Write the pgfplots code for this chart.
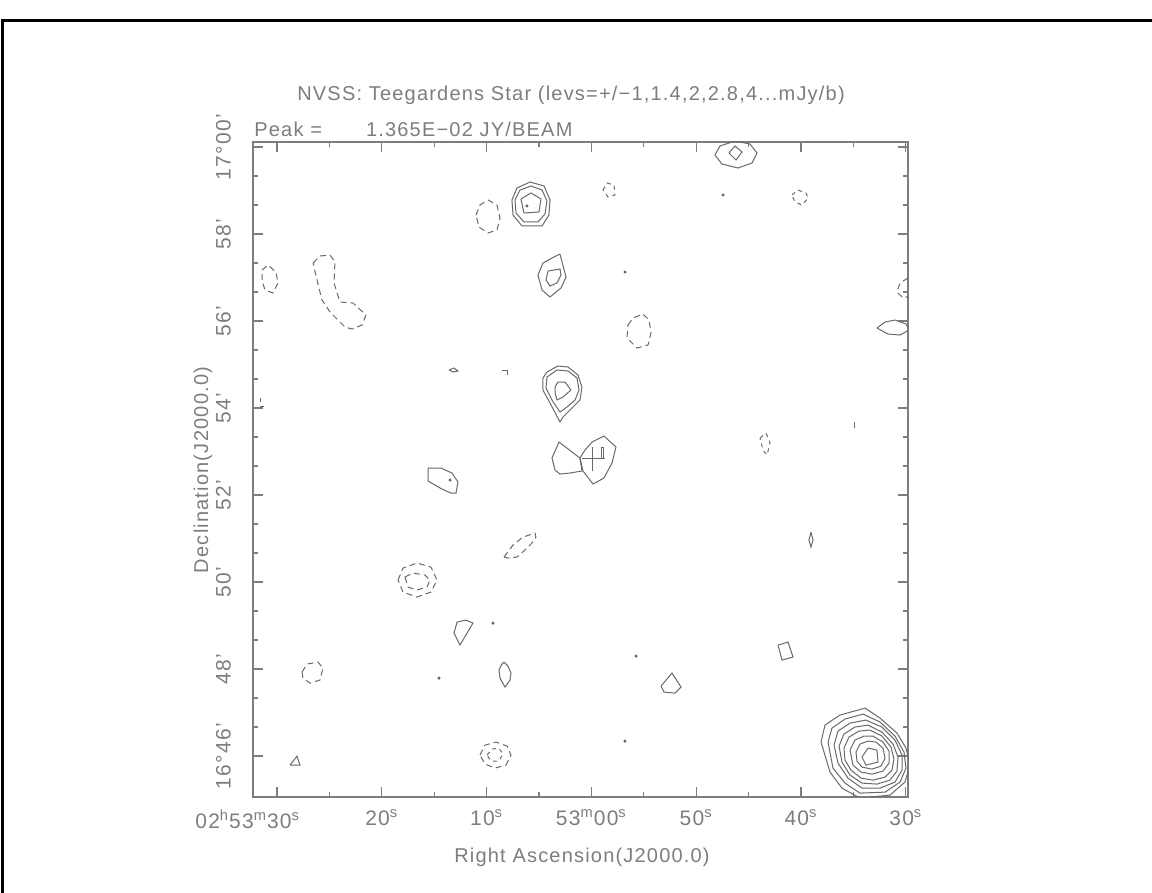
\documentclass[border=0pt]{standalone}
\usepackage{pgfplots}
\pgfplotsset{compat=1.18}
\usepackage{fontspec}
\setmainfont{Liberation Sans}[LetterSpace=6]
\definecolor{txt}{RGB}{125,125,125}
\definecolor{cnt}{RGB}{105,105,105}
\begin{document}
\begin{tikzpicture}[x=1pt,y=1pt]
\path[use as bounding box] (0,0) rectangle (576,446.5);
\draw[black,line width=1.5pt] (1.3,0) -- (1.3,436) -- (576,436);
\begin{axis}[at={(290.25pt,211.75pt)}, anchor=center, scale only axis,
  width=327.5pt, height=327.5pt,
  xmin=29.79, xmax=92.29, x dir=reverse, ymin=45.06, ymax=60.115,
  axis line style={txt, line width=0.7pt},
  xtick={30,40,50,60,70,80,90},
  xticklabels={30\textsuperscript{s}, 40\textsuperscript{s}, 50\textsuperscript{s},
    53\textsuperscript{m}00\textsuperscript{s}, 10\textsuperscript{s}, 20\textsuperscript{s},
    \hspace*{6.5pt}\llap{02\textsuperscript{h}53\textsuperscript{m}}30\textsuperscript{s}},
  minor xtick={35,45,55,65,75,85},
  ytick={46,48,50,52,54,56,58,60},
  yticklabels={16°46', 48', 50', 52', 54', 56', 58', 17°00'},
  minor y tick num=2,
  tick align=inside,
  major tick length=4.8pt, minor tick length=2.4pt,
  tick style={txt, line width=0.6pt},
  ticklabel style={txt, font=\fontsize{10.5}{12}\selectfont},
  yticklabel style={rotate=90, anchor=south},
  xticklabel style={anchor=north},
  xticklabel shift=3pt, yticklabel shift=7.5pt,
  cycle list={{cnt, line width=0.5pt, mark=none}},
  every axis plot/.append style={cnt, line width=0.5pt},
]
% top-right source
\addplot coordinates {(48.21,59.816) (47.73,60.023) (46.30,60.138) (44.87,60.069) (44.20,59.862) (44.68,59.632) (46.01,59.517) (47.54,59.609) (48.21,59.816)};
\addplot coordinates {(46.87,59.862) (46.30,60.023) (45.63,59.885) (46.20,59.701) (46.87,59.862)};
% triple source near top
\addplot coordinates {(67.58,58.782) (67.10,59.057) (65.86,59.195) (64.52,59.103) (63.95,58.782) (64.05,58.437) (64.71,58.184) (66.62,58.184) (67.48,58.437) (67.58,58.782)};
\addplot coordinates {(67.29,58.782) (66.81,59.011) (65.76,59.103) (64.71,59.011) (64.24,58.759) (64.43,58.460) (65.10,58.276) (66.43,58.276) (67.19,58.483) (67.29,58.782)};
\addplot coordinates {(66.72,58.805) (65.76,58.943) (64.81,58.805) (65.00,58.506) (66.43,58.483) (66.72,58.805)};
% pair near 57
\addplot coordinates {(63.00,57.540) (62.42,57.011) (62.90,56.759) (63.95,56.552) (64.71,56.713) (65.10,57.057) (64.62,57.333) (63.76,57.448) (63.00,57.540)};
\addplot coordinates {(64.14,57.149) (63.00,57.195) (62.90,57.057) (63.28,56.874) (63.95,56.805) (64.33,56.943) (64.14,57.149)};
% triple near 54.4
\addplot coordinates {(63.00,53.678) (63.85,54.069) (64.62,54.414) (64.62,54.690) (64.24,54.828) (63.19,54.966) (62.23,54.943) (61.28,54.759) (60.90,54.483) (61.09,54.184) (61.85,54.000) (62.71,53.793) (63.00,53.678)};
\addplot coordinates {(63.00,53.908) (63.76,54.184) (64.33,54.460) (64.24,54.713) (63.28,54.874) (62.23,54.851) (61.37,54.690) (61.18,54.414) (61.56,54.184) (62.33,54.023) (63.00,53.908)};
\addplot coordinates {(63.47,54.483) (63.19,54.598) (62.52,54.598) (61.95,54.414) (62.71,54.253) (63.28,54.184) (63.47,54.345) (63.47,54.483)};
\addplot coordinates {(68.53,54.874) (68.05,54.874) (68.05,54.759)};
% target pair and cross
\addplot coordinates {(63.09,53.218) (63.76,52.851) (63.47,52.575) (63.00,52.483) (62.04,52.506) (60.90,52.552) (61.09,52.851) (63.09,53.218)};
\addplot coordinates {(60.80,52.552) (59.85,52.253) (58.80,52.391) (58.03,52.736) (57.65,53.103) (58.80,53.356) (59.94,53.218) (60.61,53.034) (61.09,52.851) (60.80,52.552)};
\addplot coordinates {(59.08,53.103) (58.80,53.103) (58.80,52.851) (59.08,52.851) (59.08,53.103)};
\addplot coordinates {(60.90,52.851) (58.70,52.851)};
\addplot coordinates {(59.94,53.103) (59.94,52.552)};
% other positive contours
\addplot coordinates {(75.59,52.621) (74.35,52.621) (73.30,52.506) (72.73,52.299) (72.92,52.046) (73.40,52.046) (74.26,52.138) (75.59,52.322) (75.59,52.621)};
\addplot coordinates {(72.82,49.080) (71.97,49.126) (71.30,49.057) (72.54,48.552) (73.11,48.828) (72.82,49.080)};
\addplot coordinates {(68.34,48.161) (67.96,48.069) (67.67,47.908) (67.77,47.747) (68.24,47.586) (68.72,47.793) (68.82,47.977) (68.53,48.115) (68.34,48.161)};
\addplot coordinates {(88.76,45.793) (88.09,46.000) (87.81,45.793) (88.76,45.793)};
\addplot coordinates {(73.59,54.874) (73.11,54.920) (72.73,54.851) (73.21,54.828) (73.59,54.874)};
\addplot coordinates {(32.75,55.839) (31.98,55.977) (31.03,56.023) (29.98,55.931) (29.69,55.793) (30.55,55.678) (31.70,55.701) (32.75,55.839)};
\addplot coordinates {(39.05,51.149) (38.85,50.966) (39.05,50.805) (39.24,50.966) (39.05,51.149)};
\addplot coordinates {(42.19,48.552) (41.24,48.621) (40.76,48.276) (41.81,48.207) (42.19,48.552)};
\addplot coordinates {(53.36,47.609) (52.31,47.908) (51.45,47.586) (52.02,47.448) (53.07,47.471) (53.36,47.609)};
\addplot coordinates {(34.85,53.678) (34.85,53.540)};
% big source
\addplot coordinates {(38.09,46.322) (37.71,46.713) (36.28,46.943) (33.89,47.103) (32.46,46.874) (30.84,46.529) (29.98,46.184) (29.60,45.793) (30.08,45.402) (31.51,45.103) (34.37,45.034) (36.09,45.264) (37.23,45.632) (38.09,46.322)};
\addplot coordinates {(37.42,46.322) (37.04,46.644) (35.80,46.851) (34.08,46.966) (32.46,46.782) (31.03,46.460) (30.17,46.092) (29.98,45.724) (30.55,45.402) (31.98,45.172) (34.37,45.149) (35.80,45.379) (36.95,45.724) (37.42,46.322)};
\addplot coordinates {(36.85,46.253) (36.47,46.575) (35.32,46.759) (33.80,46.828) (32.27,46.667) (31.03,46.368) (30.36,46.023) (30.36,45.678) (31.03,45.402) (32.46,45.264) (34.18,45.264) (35.52,45.494) (36.47,45.839) (36.85,46.253)};
\addplot coordinates {(36.37,46.230) (35.90,46.506) (34.85,46.667) (33.61,46.713) (32.27,46.552) (31.22,46.276) (30.74,45.977) (30.84,45.655) (31.51,45.448) (32.75,45.356) (34.18,45.379) (35.32,45.563) (36.09,45.862) (36.37,46.230)};
\addplot coordinates {(35.90,46.184) (35.42,46.437) (34.47,46.575) (33.42,46.598) (32.27,46.460) (31.41,46.207) (31.13,45.931) (31.32,45.678) (31.98,45.517) (33.13,45.448) (34.27,45.494) (35.23,45.678) (35.80,45.908) (35.90,46.184)};
\addplot coordinates {(35.32,46.138) (34.85,46.368) (33.99,46.460) (33.13,46.460) (32.18,46.322) (31.60,46.115) (31.60,45.839) (32.18,45.655) (33.23,45.586) (34.27,45.632) (35.04,45.793) (35.32,46.138)};
\addplot coordinates {(34.75,46.092) (34.37,46.276) (33.61,46.345) (32.84,46.322) (32.18,46.184) (31.98,45.954) (32.37,45.770) (33.23,45.701) (34.18,45.747) (34.66,45.885) (34.75,46.092)};
\addplot coordinates {(34.18,45.977) (33.61,46.184) (32.75,46.138) (32.65,45.862) (33.80,45.793) (34.18,45.977)};
% negative (dashed) contours
\addplot[dash pattern=on 3pt off 2pt] coordinates {(71.01,58.437) (70.63,58.667) (69.87,58.782) (69.01,58.667) (68.72,58.368) (69.01,58.092) (69.87,58.023) (70.73,58.161) (71.01,58.437)};
\addplot[dash pattern=on 2pt off 2pt] coordinates {(58.89,59.011) (58.51,59.172) (57.84,59.126) (57.75,58.897) (58.42,58.851) (58.89,59.011)};
\addplot[dash pattern=on 3pt off 2pt] coordinates {(56.51,55.908) (56.03,56.069) (55.08,56.161) (54.50,56.023) (54.31,55.724) (54.60,55.448) (55.65,55.379) (56.60,55.609) (56.51,55.908)};
\addplot[dash pattern=on 3pt off 2pt] coordinates {(68.34,50.575) (68.05,50.667) (67.48,50.851) (66.53,51.034) (65.38,51.126) (65.29,51.034) (65.67,50.897) (66.34,50.736) (67.10,50.575) (67.96,50.552) (68.34,50.575)};
\addplot[dash pattern=on 3pt off 2pt] coordinates {(78.45,50.046) (77.98,50.322) (76.64,50.437) (75.31,50.345) (74.73,50.046) (75.31,49.770) (76.64,49.655) (77.98,49.770) (78.45,50.046)};
\addplot[dash pattern=on 3pt off 2pt] coordinates {(77.79,50.115) (77.02,50.207) (75.88,50.161) (75.40,50.046) (75.69,49.885) (76.64,49.816) (77.50,49.885) (77.79,50.115)};
\addplot[dash pattern=on 3pt off 2pt] coordinates {(70.63,46.023) (70.15,46.253) (69.10,46.322) (68.05,46.230) (67.67,46.023) (68.15,45.793) (69.20,45.724) (70.15,45.816) (70.63,46.023)};
\addplot[dash pattern=on 2pt off 2pt] coordinates {(69.96,46.023) (69.48,46.161) (68.82,46.184) (68.44,46.046) (68.82,45.885) (69.58,45.885) (69.96,46.023)};
\addplot[dash pattern=on 3pt off 2pt] coordinates {(91.43,57.172) (90.86,57.287) (90.10,57.126) (89.90,56.874) (90.38,56.644) (91.15,56.713) (91.43,56.943) (91.43,57.172)};
\addplot[dash pattern=on 3pt off 2pt] coordinates {(86.56,57.333) (85.90,57.494) (84.94,57.517) (84.47,57.356) (84.56,56.874) (83.99,56.437) (82.75,56.414) (81.51,56.138) (81.89,55.908) (82.84,55.816) (83.51,55.862) (84.94,56.207) (85.71,56.483) (86.18,56.943) (86.56,57.333)};
\addplot[dash pattern=on 2pt off 2pt] coordinates {(91.53,54.230) (91.53,54.046) (91.24,54.046)};
\addplot[dash pattern=on 3pt off 2pt] coordinates {(87.61,47.931) (87.14,48.115) (86.09,48.161) (85.61,48.023) (85.90,47.747) (86.85,47.678) (87.52,47.793) (87.61,47.931)};
\addplot[dash pattern=on 2pt off 2pt] coordinates {(40.86,58.897) (40.29,59.011) (39.52,58.943) (39.33,58.828) (39.90,58.667) (40.57,58.736) (40.86,58.897)};
\addplot[dash pattern=on 3pt off 2pt] coordinates {(29.79,56.989) (30.55,56.874) (30.84,56.667) (30.26,56.529) (29.60,56.575)};
\addplot[dash pattern=on 2pt off 2pt] coordinates {(43.91,53.310) (43.34,53.425) (42.96,53.195) (43.24,52.920) (43.63,53.034) (43.91,53.310)};
% isolated single-pixel peaks
\addplot[only marks, mark=*, mark size=0.5pt] coordinates {(66.15,58.644) (73.49,52.345) (56.79,57.126) (47.44,58.897) (69.39,49.057) (74.54,47.793) (55.74,48.299) (56.79,46.345)};
\end{axis}
\node[txt, font=\fontsize{10}{12}\selectfont, anchor=base] at (285.5,396) {NVSS: Teegardens Star (levs=+/−1,1.4,2,2.8,4...mJy/b)};
\node[txt, font=\fontsize{10}{12}\selectfont, anchor=base west, inner sep=0pt] at (127,378) {Peak =\hspace{2.2em}1.365E−02 JY/BEAM};
\node[txt, font=\fontsize{10}{12}\selectfont] at (291,18) {Right Ascension(J2000.0)};
\node[txt, font=\fontsize{10}{12}\selectfont, rotate=90] at (101.5,211.5) {Declination(J2000.0)};
\end{tikzpicture}
\end{document}
